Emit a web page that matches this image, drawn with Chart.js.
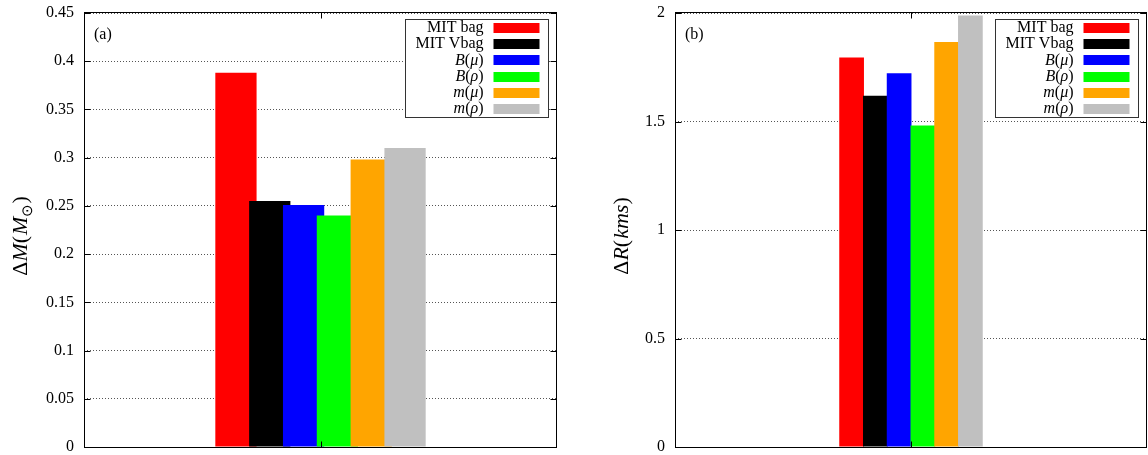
<!DOCTYPE html>
<html>
<head>
<meta charset="utf-8">
<script src="https://cdn.jsdelivr.net/npm/chart.js@4"></script>
<style>
  body { margin: 0; background: #fff; }
  .panel { position: absolute; top: 0; }
</style>
</head>
<body>
<div class="panel" style="left:0"><canvas id="massChart" width="590" height="455"></canvas></div>
<div class="panel" style="left:590px"><canvas id="radiusChart" width="558" height="455"></canvas></div>
<script>
// data
const categories = [''];
const seriesLabels = ['MIT bag', 'MIT Vbag', 'B(μ)', 'B(ρ)', 'm(μ)', 'm(ρ)'];
const seriesColors = ['#ff0000', '#000000', '#0000ff', '#00ff00', '#ffa500', '#c0c0c0'];
const massValues = [0.388, 0.255, 0.251, 0.240, 0.298, 0.310];
const radiusValues = [1.795, 1.619, 1.722, 1.481, 1.866, 1.989];
const massTicks = [0, 0.05, 0.1, 0.15, 0.2, 0.25, 0.3, 0.35, 0.4, 0.45];
const radiusTicks = [0, 0.5, 1, 1.5, 2];

const FONT = '"Liberation Serif", "Times New Roman", serif';

// draw a run of text pieces, some italic, one after the other
function drawParts(ctx, parts, x, y, size, align) {
    const font = (p) => (p.it ? 'italic ' : '') + Math.round(p.sub ? size * 0.7 : size) + 'px ' + FONT;
    let total = 0;
    parts.forEach((p) => {
        ctx.font = font(p);
        p.w = ctx.measureText(p.t).width + (p.gap || 0);
        total += p.w;
    });
    let cx = align === 'right' ? x - total : align === 'center' ? x - total / 2 : x;
    parts.forEach((p) => {
        ctx.font = font(p);
        ctx.fillText(p.t, cx, p.sub ? y + size * 0.3 : y);
        cx += p.w;
    });
}

function labelParts(label) {
    if (label.indexOf('(') < 0) return [{ t: label }];
    return label.split('').map((c) => ({ t: c, it: c !== '(' && c !== ')' }));
}

// gnuplot draws later boxes over earlier ones
const drawForward = {
    id: 'drawForward',
    beforeDatasetsDraw(chart) {
        const a = chart.chartArea;
        const ctx = chart.ctx;
        ctx.save();
        ctx.beginPath();
        ctx.rect(a.left, a.top, a.right - a.left, a.bottom - a.top);
        ctx.clip();
        chart.getSortedVisibleDatasetMetas().forEach((m) => m.controller.draw());
        ctx.restore();
        return false;
    },
};

const decorations = {
    id: 'decorations',
    afterDraw(chart, args, opts) {
        const ctx = chart.ctx;
        const a = chart.chartArea;
        const y = chart.scales.y;
        const x = chart.scales.x;
        const l = Math.round(a.left) + 0.5, r = Math.round(a.right) - 0.5;
        const t = Math.round(a.top) - 0.5, b = Math.round(a.bottom) + 0.5;
        ctx.save();
        ctx.strokeStyle = '#000';
        ctx.lineWidth = 1;
        ctx.setLineDash([]);
        // tick marks
        ctx.beginPath();
        y.ticks.forEach((tk) => {
            const py = Math.round(y.getPixelForValue(tk.value)) + 0.5;
            ctx.moveTo(l, py); ctx.lineTo(l + 6, py);
            ctx.moveTo(r, py); ctx.lineTo(r - 6, py);
        });
        const px = Math.round(x.getPixelForValue(0)) + 0.5;
        ctx.moveTo(px, t); ctx.lineTo(px, t + 6);
        ctx.moveTo(px, b); ctx.lineTo(px, b - 6);
        ctx.stroke();

        // legend box
        const bx = Math.round(a.right) - 152 + 0.5, by = Math.round(a.top) + 6 + 0.5;
        ctx.fillStyle = '#fff';
        ctx.fillRect(bx, by, 143, 98);
        ctx.strokeStyle = '#333';
        ctx.strokeRect(bx, by, 143, 98);
        ctx.textBaseline = 'middle';
        chart.data.datasets.forEach((ds, i) => {
            const ry = by + 8.5 + i * 16.2;
            ctx.fillStyle = ds.backgroundColor;
            ctx.fillRect(bx + 88, Math.round(ry - 5), 46, 10);
            ctx.fillStyle = '#000';
            drawParts(ctx, labelParts(ds.label), bx + 78, ry, 16, 'right');
        });

        // frame
        ctx.strokeStyle = '#000';
        ctx.strokeRect(l, t, r - l, b - t);

        // panel tag
        ctx.fillStyle = '#000';
        ctx.font = '16px ' + FONT;
        ctx.textAlign = 'left';
        ctx.fillText(opts.tag, a.left + 10, 35);

        // y title
        ctx.save();
        ctx.translate(opts.titleX, 236);
        ctx.rotate(-Math.PI / 2);
        drawParts(ctx, opts.title, 0, 0, 22, 'center');
        ctx.restore();
        ctx.restore();
    },
};

function makeChart(id, values, ticks, yMax, catPct, barPct, padRight, tag, title, titleX) {
    return new Chart(document.getElementById(id), {
        type: 'bar',
        data: {
            labels: categories,
            datasets: seriesLabels.map((label, i) => ({
                label: label,
                data: [values[i]],
                backgroundColor: seriesColors[i],
                borderWidth: 0,
                categoryPercentage: catPct,
                barPercentage: barPct,
            })),
        },
        options: {
            responsive: false,
            animation: false,
            layout: { padding: { top: 13, right: padRight, bottom: 8, left: 0 } },
            scales: {
                x: { display: false },
                y: {
                    min: 0,
                    max: yMax,
                    afterBuildTicks: (scale) => { scale.ticks = ticks.map((v) => ({ value: v })); },
                    afterFit: (scale) => {
                        scale.width = id === 'massChart' ? 84 : 85;
                        scale.paddingTop = 0;
                        scale.paddingBottom = 0;
                    },
                    ticks: {
                        color: '#000',
                        padding: 10,
                        font: { family: FONT, size: 16 },
                        callback: (v) => String(+v.toFixed(2)),
                    },
                    grid: { color: '#555', lineWidth: 1, drawTicks: false },
                    border: { display: false, dash: [1, 2] },
                },
            },
            plugins: {
                legend: { display: false },
                tooltip: { enabled: false },
                decorations: { tag: tag, title: title, titleX: titleX },
            },
        },
        plugins: [drawForward, decorations],
    });
}

makeChart('massChart', massValues, massTicks, 0.45, 0.429, 1.22, 33, '(a)',
    [{ t: 'Δ' }, { t: 'M', it: true }, { t: '(', gap: 1 }, { t: 'M', it: true }, { t: '⊙', sub: true }, { t: ')' }], 21);
makeChart('radiusChart', radiusValues, radiusTicks, 2, 0.302, 1.04, 1, '(b)',
    [{ t: 'Δ' }, { t: 'R', it: true }, { t: '(', gap: 1 }, { t: 'kms', it: true }, { t: ')' }], 32);
</script>
</body>
</html>
